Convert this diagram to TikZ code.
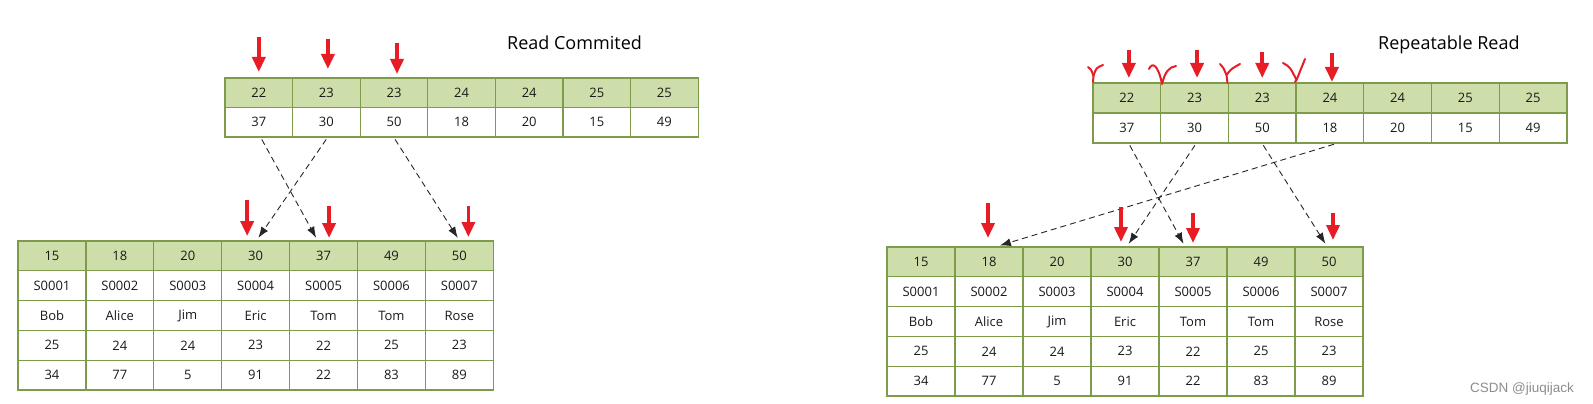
\documentclass[tikz,border=0pt]{standalone}
\usepackage{fontspec}
\setmainfont{Open Sans}
\newfontfamily\markfont{Liberation Sans}
\usetikzlibrary{arrows.meta,calc}

\definecolor{hdrgreen}{RGB}{205,222,170}
\definecolor{gridgreen}{RGB}{125,155,75}
\definecolor{markred}{RGB}{232,28,36}
\definecolor{wmgray}{RGB}{140,140,140}

\tikzset{
  cell/.style={draw=gridgreen, line width=1.3pt, minimum width=67.9pt,
    minimum height=29.8pt, inner sep=0pt, text=black!90,
    font=\fontsize{13}{15}\selectfont},
  hcell/.style={cell, fill=hdrgreen},
  link/.style={black!85, line width=0.9pt, dash pattern=on 6pt off 4pt,
    -{Latex[length=11pt,width=8pt]}, shorten <=2pt, shorten >=3pt},
  pointer/.style={markred, line width=3.6pt, -{Triangle[width=13pt,length=15pt]}},
  tick/.style={markred, line width=2pt, line cap=round, line join=round},
  title/.style={anchor=base west, inner sep=0pt, font=\fontsize{18}{22}\selectfont},
}

\begin{document}
\begin{tikzpicture}[x=1pt, y=-1pt]
\useasboundingbox (0,0) rectangle (1593,404);

% Read Commited
\node[title] (rcTitle) at (507,49) {Read Commited};

\foreach \k/\v [count=\i] in {22/37,23/30,23/50,24/18,24/20,25/15,25/49}{
  \node[hcell, minimum width=67.6pt, minimum height=29.5pt] (rcK\i) at ({225+67.6*(\i-0.5)},92.8) {\k};
  \node[cell, minimum width=67.6pt, minimum height=29.5pt] (rcV\i) at ({225+67.6*(\i-0.5)},122.3) {\v};
}

\foreach \id/\sno/\nm/\ag/\sc [count=\i] in {15/S0001/Bob/25/34, 18/S0002/Alice/24/77,
    20/S0003/Jim/24/5, 30/S0004/Eric/23/91, 37/S0005/Tom/22/22, 49/S0006/Tom/25/83,
    50/S0007/Rose/23/89}{
  \node[hcell] (rcI\i) at ({18+67.9*(\i-0.5)},255.9) {\id};
  \node[cell] (rcS\i) at ({18+67.9*(\i-0.5)},285.7) {\sno};
  \node[cell] (rcN\i) at ({18+67.9*(\i-0.5)},315.5) {\nm};
  \node[cell] (rcA\i) at ({18+67.9*(\i-0.5)},345.3) {\ag};
  \node[cell] (rcC\i) at ({18+67.9*(\i-0.5)},375.1) {\sc};
}

\draw[link] ([xshift=2pt]rcV1.south) -- ([xshift=-6pt]rcI5.north);
\draw[link] ([xshift=1pt]rcV2.south) -- ([xshift=1pt]rcI4.north);
\draw[link] (rcV3.south) -- (rcI7.north);

\draw[pointer] (rcK1.north |- 0,37) -- (rcK1.north |- 0,72);
\draw[pointer] ([xshift=1.5pt]rcK2.north |- 0,39) -- ([xshift=1.5pt]rcK2.north |- 0,69);
\draw[pointer] ([xshift=3pt]rcK3.north |- 0,43) -- ([xshift=3pt]rcK3.north |- 0,74);
\draw[pointer] ([xshift=-8.5pt]rcI4.north |- 0,200) -- ([xshift=-8.5pt]rcI4.north |- 0,236);
\draw[pointer] ([xshift=5.5pt]rcI5.north |- 0,206) -- ([xshift=5.5pt]rcI5.north |- 0,238);
\draw[pointer] ([xshift=9pt]rcI7.north |- 0,206) -- ([xshift=9pt]rcI7.north |- 0,237);

% Repeatable Read
\node[title] (rrTitle) at (1378,50) {Repeatable Read};

\foreach \k/\v [count=\i] in {22/37,23/30,23/50,24/18,24/20,25/15,25/49}{
  \node[hcell, minimum width=67.7pt, minimum height=30pt] (rrK\i) at ({1093+67.7*(\i-0.5)},98) {\k};
  \node[cell, minimum width=67.7pt, minimum height=30pt] (rrV\i) at ({1093+67.7*(\i-0.5)},128) {\v};
}

\foreach \id/\sno/\nm/\ag/\sc [count=\i] in {15/S0001/Bob/25/34, 18/S0002/Alice/24/77,
    20/S0003/Jim/24/5, 30/S0004/Eric/23/91, 37/S0005/Tom/22/22, 49/S0006/Tom/25/83,
    50/S0007/Rose/23/89}{
  \node[hcell, minimum width=68pt] (rrI\i) at ({887+68*(\i-0.5)},261.9) {\id};
  \node[cell, minimum width=68pt] (rrS\i) at ({887+68*(\i-0.5)},291.7) {\sno};
  \node[cell, minimum width=68pt] (rrN\i) at ({887+68*(\i-0.5)},321.5) {\nm};
  \node[cell, minimum width=68pt] (rrA\i) at ({887+68*(\i-0.5)},351.3) {\ag};
  \node[cell, minimum width=68pt] (rrC\i) at ({887+68*(\i-0.5)},381.1) {\sc};
}

\draw[link] ([xshift=2pt]rrV1.south) -- ([xshift=-8pt]rrI5.north);
\draw[link] ([xshift=1.5pt]rrV2.south) -- ([xshift=2pt]rrI4.north);
\draw[link] (rrV3.south) -- ([xshift=-2pt]rrI7.north);
\draw[link] ([xshift=6pt]rrV4.south) -- ([xshift=8pt]rrI2.north);

\draw[pointer] ([xshift=2pt]rrK1.north |- 0,50) -- ([xshift=2pt]rrK1.north |- 0,78);
\draw[pointer] ([xshift=2.5pt]rrK2.north |- 0,50) -- ([xshift=2.5pt]rrK2.north |- 0,78);
\draw[pointer] (rrK3.north |- 0,52) -- (rrK3.north |- 0,78);
\draw[pointer] ([xshift=2pt]rrK4.north |- 0,53) -- ([xshift=2pt]rrK4.north |- 0,82);
\draw[pointer] ([xshift=-1pt]rrI2.north |- 0,203) -- ([xshift=-1pt]rrI2.north |- 0,238);
\draw[pointer] ([xshift=-4pt]rrI4.north |- 0,207) -- ([xshift=-4pt]rrI4.north |- 0,242);
\draw[pointer] (rrI5.north |- 0,213) -- (rrI5.north |- 0,243);
\draw[pointer] ([xshift=4pt]rrI7.north |- 0,213) -- ([xshift=4pt]rrI7.north |- 0,240);

% hand drawn ticks
\draw[tick] (1088,67) .. controls (1091,69) .. (1093.5,76) -- (1093,82);
\draw[tick] (1093.5,76) .. controls (1096,68) .. (1103,65);
\draw[tick] (1149,69) .. controls (1152,62) and (1158,64) .. (1162,84)
  .. controls (1165,72) and (1169,67) .. (1176,66);
\draw[tick] (1220,64) .. controls (1223,67) .. (1226.5,75) -- (1227.5,83);
\draw[tick] (1226.5,75) .. controls (1231,69) .. (1240,64);
\draw[tick] (1283,63) .. controls (1290,67) .. (1296.5,80) -- (1295,82);
\draw[tick] (1296.5,80) .. controls (1300,69) .. (1305,59);

\node[anchor=base west, inner sep=0pt, text=wmgray, font=\markfont\fontsize{13.5}{16}\selectfont]
  (mark) at (1470,392) {CSDN @jiuqijack};
\end{tikzpicture}
\end{document}
